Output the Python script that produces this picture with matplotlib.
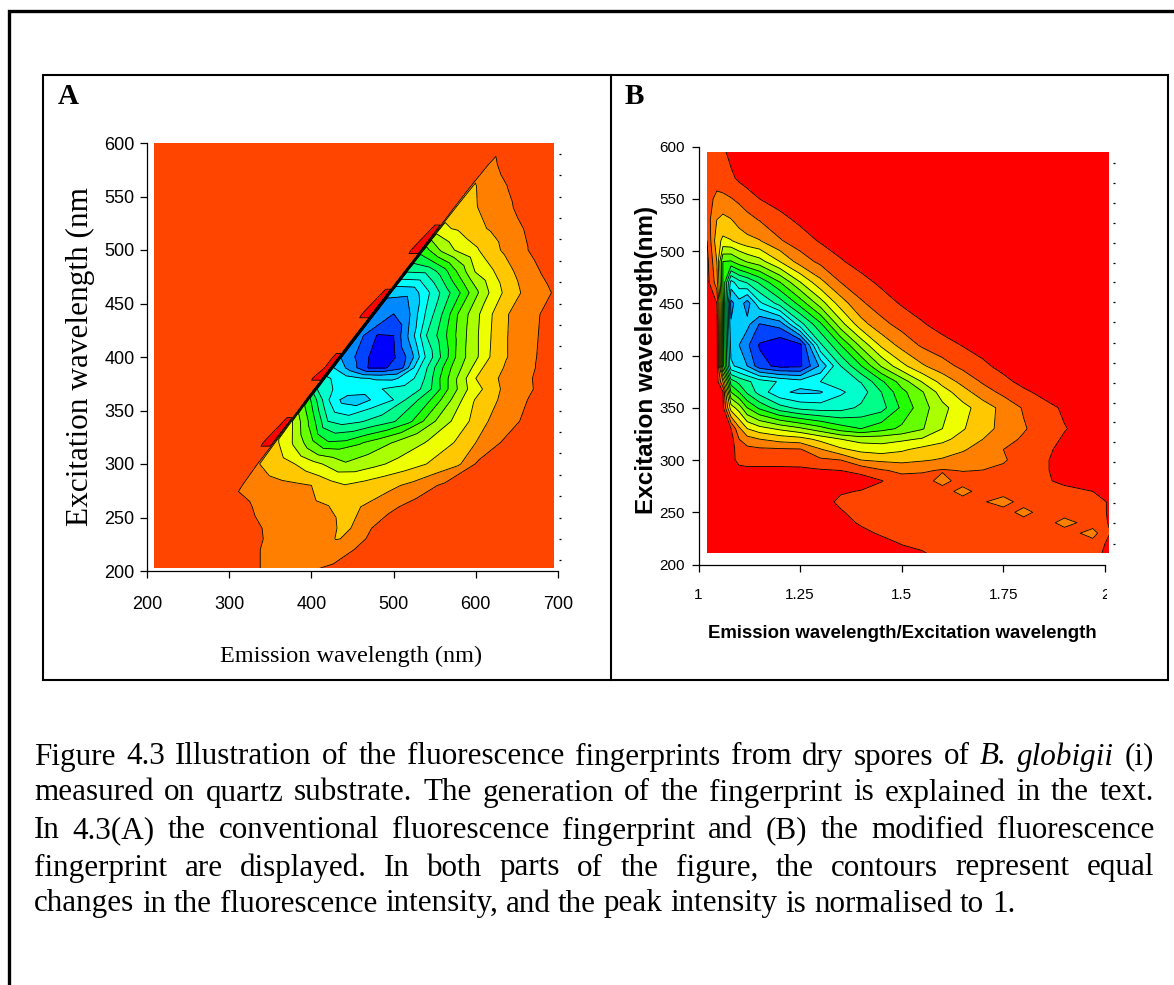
import numpy as np
import matplotlib
matplotlib.use("Agg")
import matplotlib.pyplot as plt
from matplotlib.patches import Rectangle
from matplotlib.transforms import Bbox

W, H = 1174, 985
SANS = "Liberation Sans"
SERIF = "Liberation Serif"

BAND_COLORS = ["#FF0000", "#FF4500", "#FF8000", "#FFC800", "#EEFF00", "#AAFF00",
               "#66FF00", "#22FF00", "#00FF44", "#00FF88", "#00FFCC", "#00FFFF",
               "#00CCFF", "#0088FF", "#0044FF", "#0000FF"]
LEVELS = list(range(0, 17))

# ---- panel A: columns are (emission - excitation), so the scatter edge stays straight
a_excitation = [200, 220, 230, 240, 260, 280, 300, 320, 340, 360, 370, 380, 390, 400,
                420, 440, 460, 480, 500, 520, 540, 560, 580, 600]
a_offset = [-400, 18, 22, 27, 33, 37, 60, 80, 100, 120, 140, 160, 180, 200,
            220, 240, 260, 280, 300, 320, 500]
a_inner = [
    [1.5, 1.5, 1.5, 1.5, 1.6, 2.05, 2.1, 2.1, 2.0, 1.7, 1.5, 1.5, 1.5, 1.5, 1.5],
    [1.5, 1.5, 1.5, 1.6, 2.05, 2.2, 2.25, 2.25, 2.3, 2.6, 1.6, 1.5, 1.5, 1.5, 1.5],
    [1.5, 1.5, 1.5, 1.8, 2.15, 2.3, 2.35, 2.4, 3.05, 2.85, 1.8, 1.6, 1.5, 1.5, 1.5],
    [1.5, 1.5, 1.6, 2.0, 2.25, 2.35, 2.4, 2.5, 3.4, 2.4, 1.8, 1.5, 1.5, 1.5, 1.5],
    [1.5, 1.8, 2.3, 2.4, 2.6, 2.8, 2.95, 3.5, 3.0, 2.6, 2.1, 1.8, 1.5, 1.5, 1.5],
    [2.2, 2.6, 2.7, 2.8, 3.0, 3.5, 3.95, 3.7, 3.4, 3.15, 2.8, 2.3, 1.85, 1.6, 1.5],
    [3.0, 3.5, 4.0, 4.6, 5.2, 5.9, 5.6, 5.2, 4.8, 4.4, 4.0, 3.55, 3.1, 1.95, 1.6],
    [3.8, 5.2, 6.7, 7.9, 7.8, 7.1, 6.5, 5.95, 5.5, 4.95, 4.4, 3.8, 3.0, 2.2, 1.8],
    [5.0, 7.4, 10.0, 10.4, 10.1, 9.6, 9.1, 8.2, 6.7, 5.4, 4.6, 3.6, 2.8, 2.3, 1.85],
    [7.7, 10.9, 12.4, 12.6, 11.6, 11.0, 9.6, 8.4, 6.8, 5.2, 3.9, 3.2, 2.6, 2.05, 1.7],
    [10.0, 11.2, 11.4, 11.4, 10.9, 10.8, 10.2, 8.7, 6.6, 5.0, 3.9, 3.0, 2.45, 2.0, 1.6],
    [10.8, 11.5, 11.9, 12.1, 12.2, 11.4, 9.8, 7.6, 5.7, 4.0, 3.2, 2.65, 2.2, 1.75, 1.5],
    [12.0, 13.6, 15.1, 15.1, 14.2, 11.2, 9.0, 7.0, 5.4, 3.9, 3.1, 2.55, 2.05, 1.65, 1.5],
    [13.1, 14.4, 15.6, 15.2, 13.6, 10.8, 8.7, 6.5, 5.2, 3.8, 2.95, 2.35, 1.85, 1.5, 1.5],
    [13.6, 15.05, 15.0, 12.7, 10.0, 8.4, 6.6, 5.2, 3.9, 2.95, 2.4, 1.9, 1.5, 1.5, 1.5],
    [13.3, 14.02, 13.0, 10.8, 8.9, 6.8, 5.3, 4.0, 3.0, 2.5, 1.95, 1.5, 1.5, 1.5, 1.5],
    [12.9, 12.8, 11.3, 9.7, 8.1, 6.25, 4.7, 3.55, 2.8, 2.3, 1.8, 1.5, 1.5, 1.5, 1.5],
    [9.9, 9.8, 8.5, 6.7, 4.9, 4.1, 3.2, 2.55, 1.95, 1.5, 1.5, 1.5, 1.5, 1.5, 1.5],
    [7.5, 5.7, 4.7, 4.15, 3.35, 2.65, 2.1, 1.55, 1.5, 1.5, 1.5, 1.5, 1.5, 1.5, 1.5],
    [4.2, 3.85, 3.3, 2.85, 2.45, 1.95, 1.5, 1.5, 1.5, 1.5, 1.5, 1.5, 1.5, 1.5, 1.5],
    [3.5, 3.05, 2.6, 2.15, 1.6, 1.5, 1.5, 1.5, 1.5, 1.5, 1.5, 1.5, 1.5, 1.5, 1.5],
    [3.1, 2.5, 1.95, 1.5, 1.5, 1.5, 1.5, 1.5, 1.5, 1.5, 1.5, 1.5, 1.5, 1.5, 1.5],
    [2.3, 1.55, 1.5, 1.5, 1.5, 1.5, 1.5, 1.5, 1.5, 1.5, 1.5, 1.5, 1.5, 1.5, 1.5],
    [1.5, 1.5, 1.5, 1.5, 1.5, 1.5, 1.5, 1.5, 1.5, 1.5, 1.5, 1.5, 1.5, 1.5, 1.5],
]
a_background = 1.5
a_pocket_value = 0.9
a_pocket_low = [320, 380, 440, 500]     # excitation row of each red sliver, lower end
a_pocket_high = [340, 400, 460, 520]    # upper end
a_pocket_mid = [390]
a_dots = [590, 570, 550, 530, 510, 490, 470, 450, 430, 410,
          390, 370, 350, 330, 310, 290, 270, 250, 230, 210]

# ---- panel B
b_ratio = [1.021, 1.045, 1.06, 1.08, 1.10, 1.12, 1.15, 1.20, 1.25, 1.30, 1.35, 1.40,
           1.45, 1.50, 1.55, 1.60, 1.65, 1.70, 1.75, 1.80, 1.85, 1.90, 1.97, 2.01]
b_excitation = [210, 220, 230, 240, 250, 260, 270, 280, 290, 300, 310, 320, 330, 350,
                365, 375, 390, 410, 430, 450, 470, 490, 510, 530, 550, 570, 590, 600]
b_values = [
    [.5, .5, .5, .5, .5, .5, .5, .5, .5, .5, .5, .5, .5, .6, .8, 1.5, 1.5, 1.5, 1.5, 1.5, 1.5, 1.5, 1.6, .5],
    [.5, .5, .5, .5, .5, .5, .5, .5, .5, .5, .5, .5, .6, 1.05, 1.4, 1.5, 1.5, 1.5, 1.5, 1.5, 1.5, 1.5, 1.6, .8],
    [.5, .5, .5, .5, .5, .5, .5, .5, .5, .5, .5, .7, 1.15, 1.4, 1.5, 1.5, 1.5, 1.5, 1.5, 1.5, 1.5, 1.5, 2.4, 1.05],
    [.5, .5, .5, .5, .5, .5, .5, .5, .5, .5, .6, 1.15, 1.4, 1.5, 1.5, 1.5, 1.5, 1.5, 1.5, 1.5, 1.5, 2.4, 1.5, .95],
    [.5, .5, .5, .5, .5, .5, .5, .5, .5, .5, .9, 1.4, 1.5, 1.5, 1.5, 1.5, 1.5, 1.5, 1.5, 2.4, 1.5, 1.5, 1.5, .9],
    [.5, .5, .5, .5, .5, .5, .5, .5, .5, .6, 1.2, 1.4, 1.5, 1.5, 1.5, 1.5, 1.5, 1.9, 2.5, 1.5, 1.5, 1.5, 1.5, .9],
    [.5, .5, .5, .5, .5, .5, .5, .5, .5, .5, .9, 1.05, 1.4, 1.5, 1.5, 1.5, 2.4, 1.5, 1.5, 1.5, 1.5, 1.4, 1.0, .5],
    [.5, .5, .5, .5, .5, .5, .5, .5, .5, .5, .5, .6, .95, 1.6, 1.5, 2.4, 1.5, 1.5, 1.5, 1.45, 1.2, .7, .5, .5],
    [.5, .5, .5, .6, .7, .7, .7, .7, .7, .9, 1.0, 1.25, 1.9, 2.2, 2.15, 1.9, 2.05, 1.98, 1.8, 1.5, 1.1, .7, .5, .5],
    [.5, .5, .5, .7, 1.3, 1.5, 1.5, 1.5, 1.6, 1.8, 2.0, 3.0, 3.2, 3.3, 3.1, 2.9, 2.6, 2.4, 2.1, 1.6, 1.1, .7, .5, .5],
    [.5, .5, .5, .5, 1.6, 1.7, 1.8, 1.85, 1.9, 2.9, 3.8, 4.3, 4.5, 4.15, 3.7, 3.45, 3.1, 2.6, 2.0, 1.6, 1.2, .75, .5, .5],
    [.5, .5, .5, .6, 2.0, 2.6, 3.0, 3.4, 3.6, 4.3, 5.0, 5.4, 5.4, 5.2, 4.9, 4.3, 3.6, 3.0, 2.4, 1.85, 1.35, .9, .5, .5],
    [.5, .5, .5, 1.0, 2.8, 4.0, 4.6, 5.2, 5.8, 6.6, 7.5, 8.0, 7.4, 6.8, 6.1, 5.0, 4.1, 3.3, 2.75, 2.1, 1.5, 1.05, .6, .5],
    [.5, .5, .8, 4.5, 5.5, 7.0, 8.2, 9.6, 10.3, 10.5, 10.4, 9.8, 9.4, 7.8, 6.4, 5.3, 4.35, 3.5, 2.7, 1.9, 1.35, .85, .5, .5],
    [.5, .5, .9, 7.0, 8.0, 9.2, 10.4, 11.8, 12.2, 12.1, 11.15, 10.5, 9.0, 7.3, 6.1, 4.5, 3.4, 2.45, 1.75, 1.2, .7, .5, .5, .5],
    [.5, .5, 3.0, 8.5, 9.3, 9.8, 10.5, 11.1, 11.6, 11.0, 10.5, 9.95, 8.2, 6.55, 4.95, 3.65, 2.7, 1.87, 1.28, .7, .5, .5, .5, .5],
    [.5, .5, 6.5, 11.8, 12.3, 13.0, 14.6, 15.3, 15.2, 12.8, 10.0, 8.05, 5.9, 4.3, 3.15, 2.4, 1.75, 1.2, .7, .5, .5, .5, .5, .5],
    [.5, .5, 6.5, 12.4, 13.0, 13.8, 15.1, 15.8, 15.3, 10.2, 8.0, 5.7, 3.8, 2.65, 1.85, 1.4, .95, .6, .5, .5, .5, .5, .5, .5],
    [.5, .6, 6.5, 12.9, 12.4, 12.7, 14.05, 13.6, 10.4, 8.2, 5.4, 3.4, 2.3, 1.65, 1.1, .6, .5, .5, .5, .5, .5, .5, .5, .5],
    [.5, 1.0, 6.5, 13.3, 12.4, 13.5, 11.25, 9.6, 7.6, 5.5, 3.5, 2.15, 1.47, .9, .5, .5, .5, .5, .5, .5, .5, .5, .5, .5],
    [.6, 2.5, 7.0, 11.4, 10.4, 9.9, 8.85, 7.05, 5.05, 3.3, 2.0, 1.35, .8, .5, .5, .5, .5, .5, .5, .5, .5, .5, .5, .5],
    [.7, 3.0, 7.0, 7.1, 6.4, 5.9, 5.4, 4.0, 2.55, 1.75, 1.1, .6, .5, .5, .5, .5, .5, .5, .5, .5, .5, .5, .5, .5],
    [1.0, 3.6, 4.2, 4.05, 3.6, 3.3, 3.05, 2.1, 1.45, .9, .5, .5, .5, .5, .5, .5, .5, .5, .5, .5, .5, .5, .5, .5],
    [1.5, 3.0, 3.3, 3.05, 2.6, 2.3, 1.95, 1.3, .8, .5, .5, .5, .5, .5, .5, .5, .5, .5, .5, .5, .5, .5, .5, .5],
    [1.5, 2.3, 2.2, 2.05, 1.8, 1.5, 1.0, .6, .5, .5, .5, .5, .5, .5, .5, .5, .5, .5, .5, .5, .5, .5, .5, .5],
    [1.4, 1.5, 1.5, 1.2, .8, .5, .5, .5, .5, .5, .5, .5, .5, .5, .5, .5, .5, .5, .5, .5, .5, .5, .5, .5],
    [1.5, 1.5, 1.3, .8, .5, .5, .5, .5, .5, .5, .5, .5, .5, .5, .5, .5, .5, .5, .5, .5, .5, .5, .5, .5],
    [1.5, 1.5, 1.1, .5, .5, .5, .5, .5, .5, .5, .5, .5, .5, .5, .5, .5, .5, .5, .5, .5, .5, .5, .5, .5],
]
b_dots = [584, 565, 546, 527, 508, 489, 470, 451, 432, 412,
          393, 374, 355, 336, 317, 298, 278, 259, 240, 220]

a_xticks = [200, 300, 400, 500, 600, 700]
yticks = [200, 250, 300, 350, 400, 450, 500, 550, 600]
b_xticks = [1, 1.25, 1.5, 1.75, 2]
b_xticklabels = ["1", "1.25", "1.5", "1.75", "2"]

caption = [
    ["Figure", "4.3", "Illustration", "of", "the", "fluorescence", "fingerprints", "from", "dry",
     "spores", "of", "*B.", "*globigii", "(i)"],
    "measured on quartz substrate. The generation of the fingerprint is explained in the text.".split(),
    "In 4.3(A) the conventional fluorescence fingerprint and (B) the modified fluorescence".split(),
    "fingerprint are displayed. In both parts of the figure, the contours represent equal".split(),
    "changes in the fluorescence intensity, and the peak intensity is normalised to 1.".split(),
]
caption_y = [757, 793, 831, 868, 904]


def make_axes(fig, left, right, top, bottom):
    ax = fig.add_axes([left / W, 1 - bottom / H, (right - left) / W, (bottom - top) / H])
    ax.set_facecolor("none")
    ax.spines["top"].set_visible(False)
    ax.spines["right"].set_visible(False)
    for side in ("left", "bottom"):
        ax.spines[side].set_linewidth(0.9)
    return ax


def draw_bands(ax, X, Y, Z, clip):
    rect = Rectangle((clip[0], clip[2]), clip[1] - clip[0], clip[3] - clip[2], transform=ax.transData)
    filled = ax.contourf(X, Y, Z, levels=LEVELS, colors=BAND_COLORS)
    lines = ax.contour(X, Y, Z, levels=LEVELS[1:-1], colors="black", linewidths=0.6)
    filled.set_clip_path(rect)
    lines.set_clip_path(rect)


def justified(page, fig, words, y, x0, x1, stretch, size):
    r = fig.canvas.get_renderer()
    items = []
    total = 0
    for w in words:
        italic = w.startswith("*")
        t = page.text(0, y, w.lstrip("*"), family=SERIF, fontsize=size, va="center", ha="left",
                      style="italic" if italic else "normal")
        wid = t.get_window_extent(r).width
        items.append((t, wid))
        total += wid
    gap = (x1 - x0 - total) / (len(words) - 1) if stretch else size * 100 / 72 * 0.25
    x = x0
    for t, wid in items:
        t.set_x(x)
        x += wid + gap


fig = plt.figure(figsize=(W / 100, H / 100), dpi=100, facecolor="white")

# page layer in pixel coordinates: frames, panel letters, caption
page = fig.add_axes([0, 0, 1, 1], zorder=-1)
page.set_xlim(0, W)
page.set_ylim(H, 0)
page.axis("off")
page.plot([9, 9, W], [H, 11, 11], color="black", lw=2.4, solid_joinstyle="miter")
page.add_patch(Rectangle((43, 75), 1125, 605, fill=False, ec="black", lw=1.5))
page.plot([611, 611], [75, 680], color="black", lw=1.5)
page.text(58, 97, "A", family=SERIF, fontsize=21, fontweight="bold", va="center")
page.text(625, 97, "B", family=SERIF, fontsize=21, fontweight="bold", va="center")
page.text(80, 356, "Excitation wavelength (nm", family=SERIF, fontsize=22.5, rotation=90,
          va="center", ha="center")
page.text(351, 656, "Emission wavelength (nm)", family=SERIF, fontsize=17.5, va="center", ha="center")
page.text(647, 360, "Excitation wavelength(nm)", family=SANS, fontsize=17.5, fontweight="bold",
          rotation=90, va="center", ha="center")
page.text(902, 634, "Emission wavelength/Excitation wavelength", family=SANS, fontsize=13.4,
          fontweight="bold", va="center", ha="center")
for i, words in enumerate(caption):
    justified(page, fig, words, caption_y[i], 34, 1154, i < 4, 22.4)

# panel A
axa = make_axes(fig, 147, 558, 143, 571)
Za = np.full((len(a_excitation), len(a_offset)), a_background)
Za[:, 5:20] = np.array(a_inner)
for lo, hi in zip(a_pocket_low, a_pocket_high):
    Za[a_excitation.index(lo), 2:5] = a_pocket_value
    Za[a_excitation.index(hi), 3:5] = a_pocket_value
for mid in a_pocket_mid:
    Za[a_excitation.index(mid), 3:5] = a_pocket_value
Ya, Oa = np.meshgrid(a_excitation, a_offset, indexing="ij")
draw_bands(axa, Ya + Oa, Ya, Za, (208.5, 695, 202.5, 600.5))
axa.set_xlim(200, 700)
axa.set_ylim(200, 600)
axa.set_xticks(a_xticks)
axa.set_yticks(yticks)
axa.tick_params(axis="both", direction="out", length=5, width=0.9, labelsize=13)
axa.tick_params(axis="x", pad=13)
axa.tick_params(axis="y", pad=4)
axa.plot([703] * len(a_dots), a_dots, ls="none", marker="_", ms=2, mew=0.9, color="black", clip_on=False)
for lab in axa.get_xticklabels() + axa.get_yticklabels():
    lab.set_family(SANS)

# panel B
axb = make_axes(fig, 698.5, 1105, 146.6, 564.5)
Xb, Yb = np.meshgrid(b_ratio, b_excitation)
draw_bands(axb, Xb, Yb, np.array(b_values), (1.021, 2.01, 211, 595))
axb.set_xlim(1, 2)
axb.set_ylim(200, 600)
axb.set_xticks(b_xticks)
axb.set_xticklabels(b_xticklabels)
axb.set_yticks(yticks)
axb.tick_params(axis="both", direction="out", length=5, width=0.9, labelsize=11)
axb.tick_params(axis="x", pad=12)
axb.tick_params(axis="y", pad=5)
axb.plot([2.021] * len(b_dots), b_dots, ls="none", marker="_", ms=2, mew=0.9, color="black", clip_on=False)
for lab in axb.get_xticklabels() + axb.get_yticklabels():
    lab.set_family(SANS)
last = axb.get_xticklabels()[-1]
last.set_clip_on(True)
last.set_clip_box(Bbox([[0, 0], [1107, H]]))

fig.savefig("out.png", dpi=100)
